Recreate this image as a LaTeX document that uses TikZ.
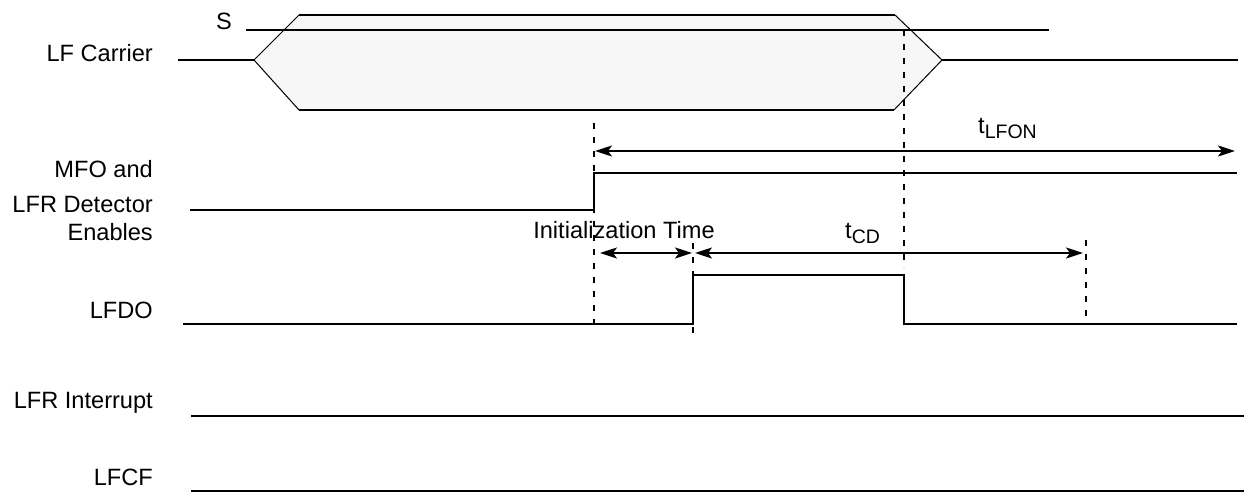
\documentclass[tikz,border=0pt]{standalone}
\usepackage{fontspec}
\setmainfont{Liberation Sans}
\usetikzlibrary{arrows.meta}
\definecolor{boxfill}{HTML}{F7F7F7}
\newcommand{\subtxt}[1]{\raisebox{-5pt}{\fontsize{19.5}{20}\selectfont #1}}
\begin{document}
\begin{tikzpicture}[x=1pt,y=-1pt,
  sig/.style={line width=2pt, line join=miter},
  slant/.style={line width=1pt},
  guide/.style={line width=2pt, dash pattern=on 6pt off 8pt},
  dim/.style={line width=2pt, {Stealth[length=17pt,width=11pt,inset=4pt]}-{Stealth[length=17pt,width=11pt,inset=4pt]}},
  lbl/.style={font=\fontsize{23.6}{28}\selectfont, inner sep=0pt}]
\useasboundingbox (0,0) rectangle (1246,492);

% left labels
\node[lbl, anchor=base east] (lfc) at (153,62) {LF Carrier};
\node[lbl, anchor=base east] (mfo1) at (153,177) {MFO and};
\node[lbl, anchor=base east] (mfo2) at (153,212) {LFR Detector};
\node[lbl, anchor=base east] (mfo3) at (153,240) {Enables};
\node[lbl, anchor=base east] (lfdo) at (153,318) {LFDO};
\node[lbl, anchor=base east] (lfri) at (153,408) {LFR Interrupt};
\node[lbl, anchor=base east] (lfcf) at (153,485) {LFCF};

% LF carrier
\draw[sig] (178,60) -- (254,60);
\fill[boxfill] (254,60) -- (299,15) -- (895,15) -- (942,60) -- (894,110) -- (299,110) -- cycle;
\draw[slant] (299,15) -- (254,60) -- (299,110);
\draw[slant] (895,15) -- (942,60) -- (894,110);
\draw[sig] (299,15) -- (895,15);
\draw[sig] (299,110) -- (894,110);
\draw[sig] (942,60) -- (1238,60);
\draw[sig] (246,30) -- (1049,30);
\node[lbl, anchor=base] (s) at (224,30) {S};

% MFO / LFR detector enables
\draw[sig] (190,210) -- (594,210) -- (594,173) -- (1237,173);

% LFDO
\draw[sig] (183,324) -- (693,324) -- (693,275) -- (904,275) -- (904,324) -- (1237,324);

% LFR Interrupt, LFCF
\draw[sig] (191,416) -- (1244,416);
\draw[sig] (191,491) -- (1244,491);

% guides
\draw[guide] (594,123) -- (594,323);
\draw[guide] (904,30) -- (904,268);
\draw[guide] (693,243) -- (693,333);
\draw[guide] (1086,240) -- (1086,323);

% dimension arrows
\coordinate (a1) at (595,151);
\coordinate (a2) at (1235,151);
\draw[dim] (a1) -- (a2);
\node[lbl, anchor=base west] (tlfon) at (978,133) {t\subtxt{LFON}};

\coordinate (b1) at (600,253);
\coordinate (b2) at (692,253);
\draw[dim] (b1) -- (b2);
\node[lbl, anchor=base] (init) at (624,238) {Initialization Time};

\coordinate (c1) at (695,253);
\coordinate (c2) at (1083,253);
\draw[dim] (c1) -- (c2);
\node[lbl, anchor=base west] (tcd) at (845,238) {t\subtxt{CD}};
\end{tikzpicture}
\end{document}
